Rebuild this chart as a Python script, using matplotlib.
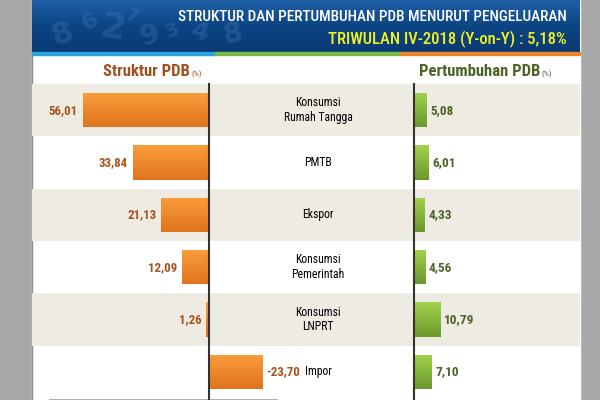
"""Struktur dan pertumbuhan PDB menurut pengeluaran, Triwulan IV-2018."""
import matplotlib
matplotlib.use("Agg")
import matplotlib.pyplot as plt
import numpy as np
from matplotlib import font_manager as fm
from matplotlib.colors import LinearSegmentedColormap
from matplotlib.patches import Rectangle

komponen = ["Konsumsi\nRumah Tangga", "PMTB", "Ekspor",
            "Konsumsi\nPemerintah", "Konsumsi\nLNPRT", "Impor"]
struktur = [56.01, 33.84, 21.13, 12.09, 1.26, -23.70]
pertumbuhan = [5.08, 6.01, 4.33, 4.56, 10.79, 7.10]

judul = "STRUKTUR DAN PERTUMBUHAN PDB MENURUT PENGELUARAN"
subjudul = "TRIWULAN IV-2018 (Y-on-Y) : 5,18%"

# pick a narrow font if one is installed
installed = {f.name for f in fm.fontManager.ttflist}
narrow = next((n for n in ["Liberation Sans Narrow", "Arial Narrow", "Roboto Condensed",
                           "Archivo Narrow", "PT Sans Narrow", "Open Sans Condensed"]
               if n in installed), "DejaVu Sans")
NARROW = [narrow, "DejaVu Sans"]

W, H = 600, 400
fig = plt.figure(figsize=(6, 4), dpi=100, facecolor="#a8a8a8")


def px_axes(x0, y0, x1, y1):
    return fig.add_axes([x0 / W, 1 - y1 / H, (x1 - x0) / W, (y1 - y0) / H])


def fmt(v):
    return f"{v:.2f}".replace(".", ",")


def gradient_fill(ax, bars, top, bottom):
    cmap = LinearSegmentedColormap.from_list("g", [top, bottom])
    grad = np.linspace(0, 1, 64).reshape(-1, 1)
    for p in bars:
        x0, y0, w, h = p.get_x(), p.get_y(), p.get_width(), p.get_height()
        im = ax.imshow(grad, cmap=cmap, aspect="auto", interpolation="bilinear",
                       extent=[x0, x0 + w, y0 + h, y0], zorder=3)
        im.set_clip_path(p)


# background / header in pixel coords
bg = px_axes(0, 0, W, H)
bg.axis("off")
bg.add_patch(Rectangle((32, 0), 548, 400, color="white", zorder=0))
bg.plot([31.5, 31.5], [0, 400], color="#8c8c8c", lw=1, zorder=1)
hcmap = LinearSegmentedColormap.from_list("h", ["#1f5fa6", "#0d4584", "#0a3a74"])
bg.imshow(np.linspace(0, 1, 64).reshape(-1, 1), cmap=hcmap, aspect="auto",
          extent=[32, 580, 52, 0], zorder=1)
for txt, x, y, s, r in [("8", 62, 34, 22, 20), ("2", 112, 28, 26, -10),
                        ("9", 150, 36, 20, 15), ("6", 90, 22, 16, 30),
                        ("7", 132, 16, 12, -20), ("3", 172, 30, 14, 25),
                        ("4", 200, 32, 18, -15), ("8", 232, 34, 20, 10)]:
    bg.text(x, y, txt, fontsize=s, color="#4a82c0", alpha=0.3,
            rotation=r, ha="center", va="center", fontweight="bold", zorder=2)
bg.set_xlim(0, W)
bg.set_ylim(H, 0)
for x0, x1, c in [(32, 215, "#2ba4dd"), (215, 400, "#7ab648"), (400, 580, "#e8842a")]:
    bg.add_patch(Rectangle((x0, 52), x1 - x0, 3, color=c, zorder=2))
bg.text(567, 17, judul, color="white", fontsize=11, family=NARROW,
        fontweight="medium", ha="right", va="center", zorder=3)
bg.text(567, 39, subjudul, color="#f2f21e", fontsize=12, family=NARROW,
        fontweight="medium", ha="right", va="center", zorder=3)
bg.text(190, 76, "Struktur PDB", color="#a0501c", fontsize=12, family=NARROW,
        fontweight="bold", ha="right", va="baseline")
bg.text(192, 76, "(%)", color="#a0501c", fontsize=6, family=NARROW,
        ha="left", va="baseline")
bg.text(540, 76, "Pertumbuhan PDB", color="#4f6228", fontsize=12, family=NARROW,
        fontweight="bold", ha="right", va="baseline")
bg.text(542, 76, "(%)", color="#4f6228", fontsize=6, family=NARROW,
        ha="left", va="baseline")
bg.plot([50, 277], [399.5, 399.5], color="#b0b0b0", lw=1.5, zorder=3)

# row bands and category labels
n = len(komponen)
rows = px_axes(32, 84, 580, 398)
rows.set_xlim(32, 580)
rows.set_ylim(n - 0.5, -0.5)
rows.axis("off")
for i in range(0, n, 2):
    rows.axhspan(i - 0.5, i + 0.5, color="#eeebe3", lw=0, zorder=0)
for i, lab in enumerate(komponen):
    rows.text(318, i, lab, ha="center", va="center", fontsize=8.5,
              family=NARROW, linespacing=1.2, zorder=2)

# left: struktur
ax_l = px_axes(32, 84, 414, 398)
ax_l.patch.set_alpha(0)
scale_l = 2.25
bars_l = ax_l.barh(range(n), struktur, height=0.65, color="#f08a2a", zorder=2)
gradient_fill(ax_l, bars_l, "#fb9d3c", "#df741c")
ax_l.set_xlim((209 - 32) / scale_l, -(414 - 209) / scale_l)
ax_l.set_ylim(n - 0.5, -0.5)
ax_l.axis("off")
for i, v in enumerate(struktur):
    if v >= 0:
        ax_l.text(v + 2.2, i, fmt(v), ha="right", va="center", fontsize=9.3,
                  family=NARROW, fontweight="bold", color="#a8541c")
    else:
        ax_l.text(v - 1.8, i, fmt(v), ha="left", va="center", fontsize=9.3,
                  family=NARROW, fontweight="bold", color="#a8541c")

# right: pertumbuhan
ax_r = px_axes(414, 84, 580, 398)
ax_r.patch.set_alpha(0)
scale_r = 2.45
bars_r = ax_r.barh(range(n), pertumbuhan, height=0.65, color="#86b93c", zorder=2)
gradient_fill(ax_r, bars_r, "#a2d24c", "#6a982c")
ax_r.set_xlim(0, (580 - 414) / scale_r)
ax_r.set_ylim(n - 0.5, -0.5)
ax_r.axis("off")
for i, v in enumerate(pertumbuhan):
    ax_r.text(v + 1.5, i, fmt(v), ha="left", va="center", fontsize=9.5,
              family=NARROW, fontweight="bold", color="#4f6228")

bg.set_zorder(0)
rows.set_zorder(1)
ax_l.set_zorder(2)
ax_r.set_zorder(2)

# axis lines on top
top = fig.add_axes([0, 0, 1, 1])
top.set_xlim(0, W)
top.set_ylim(H, 0)
top.axis("off")
top.patch.set_alpha(0)
top.set_zorder(3)
for x in (209, 414):
    top.plot([x, x], [84, 400], color="#333333", lw=1.5)

fig.savefig("out.png", dpi=100, facecolor=fig.get_facecolor())
